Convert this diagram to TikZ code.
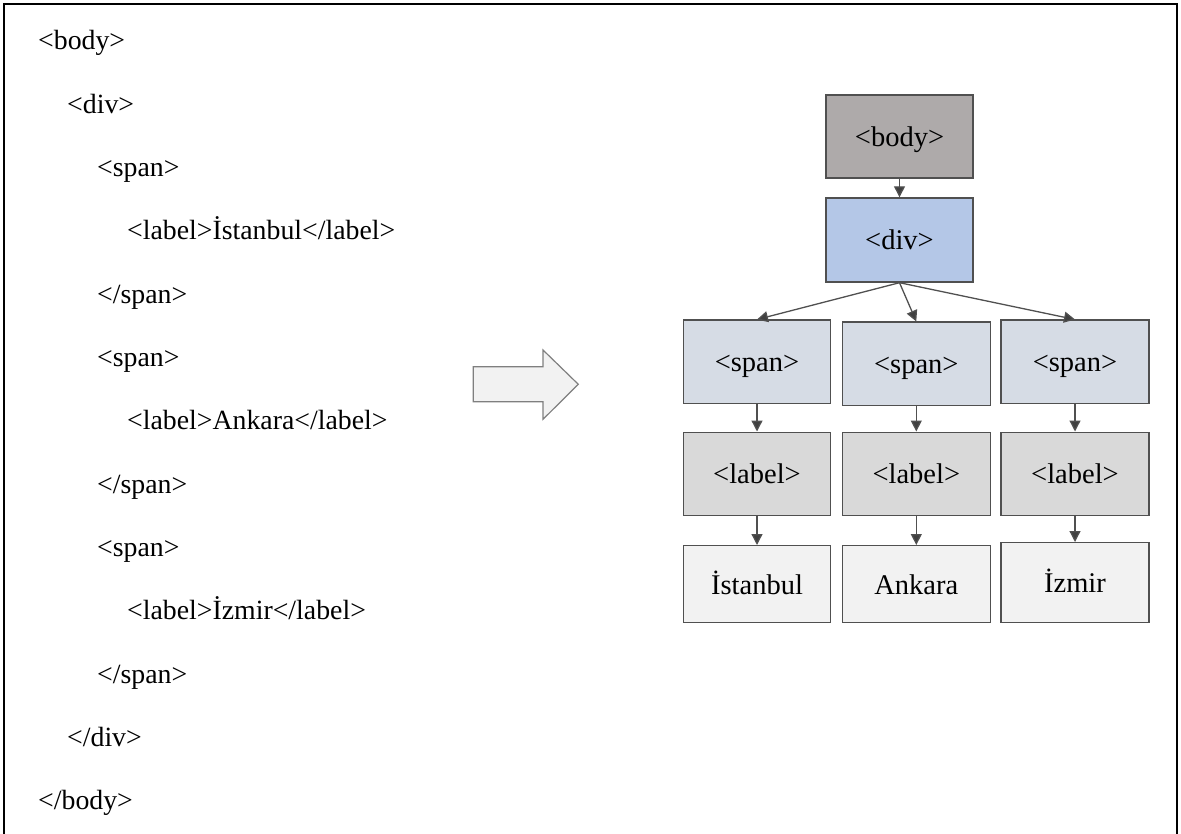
\documentclass[tikz,border=0pt]{standalone}
\usepackage{fontspec}
\setmainfont{Liberation Serif}
\usetikzlibrary{arrows.meta}
\definecolor{framecol}{HTML}{000000}
\definecolor{edgecol}{HTML}{505050}
\definecolor{tipcol}{HTML}{404040}
\definecolor{bodyfill}{HTML}{AEAAAA}
\definecolor{divfill}{HTML}{B4C7E7}
\definecolor{spanfill}{HTML}{D6DCE5}
\definecolor{labelfill}{HTML}{D9D9D9}
\definecolor{valfill}{HTML}{F2F2F2}
\definecolor{bigarrowedge}{HTML}{7F7F7F}
\tikzset{
  code/.style={anchor=base west, inner sep=0pt, font=\fontsize{27.8}{34}\selectfont},
  tagbox/.style={draw=edgecol, line width=1.4pt, minimum width=147pt, inner sep=0pt,
    text height=20pt, text depth=0pt, font=\fontsize{28.5}{34}\selectfont},
  link/.style={draw=edgecol, line width=1.3pt,
    -{Triangle[length=11pt,width=11pt,fill=tipcol]}},
}
\begin{document}
\begin{tikzpicture}[x=1pt,y=-1pt]
\useasboundingbox (0,0) rectangle (1181,834);
% page frame, open at the bottom
\draw[framecol, line width=1.5pt] (4,834) -- (4,4) -- (1177,4) -- (1177,834);

% HTML source listing
\node[code] (l0)  at (38, 50.0)  {<body>};
\node[code] (l1)  at (67, 113.3) {<div>};
\node[code] (l2)  at (97, 176.6) {<span>};
\node[code] (l3)  at (127,239.9) {<label>İstanbul</label>};
\node[code] (l4)  at (97, 303.2) {</span>};
\node[code] (l5)  at (97, 366.5) {<span>};
\node[code] (l6)  at (127,429.8) {<label>Ankara</label>};
\node[code] (l7)  at (97, 493.1) {</span>};
\node[code] (l8)  at (97, 556.4) {<span>};
\node[code] (l9)  at (127,619.7) {<label>İzmir</label>};
\node[code] (l10) at (97, 683.0) {</span>};
\node[code] (l11) at (67, 746.3) {</div>};
\node[code] (l12) at (38, 809.6) {</body>};

% block arrow
\draw[bigarrowedge, fill=valfill, line width=1.2pt, line join=miter]
  (473.3,366.7) -- (543,366.7) -- (543,350) -- (578.3,384.3)
  -- (543,419.3) -- (543,401.7) -- (473.3,401.7) -- cycle;

% DOM tree
\node[tagbox, fill=bodyfill, minimum height=83pt] (body) at (899.5,136.5) {<body>};
\node[tagbox, fill=divfill, minimum height=84pt] (div) at (899.5,240) {<div>};

\node[tagbox, fill=spanfill, minimum height=83pt] (s1) at (757,361.7) {<span>};
\node[tagbox, fill=spanfill, minimum height=83pt, minimum width=148pt] (s2) at (916.3,363.7) {<span>};
\node[tagbox, fill=spanfill, minimum height=83pt, minimum width=148pt] (s3) at (1075,361.7) {<span>};

\node[tagbox, fill=labelfill, minimum height=83pt] (b1) at (757,473.7) {<label>};
\node[tagbox, fill=labelfill, minimum height=83pt, minimum width=148pt] (b2) at (916.3,473.7) {<label>};
\node[tagbox, fill=labelfill, minimum height=83pt, minimum width=148pt] (b3) at (1075,473.7) {<label>};

\node[tagbox, fill=valfill, minimum height=77pt] (v1) at (757,584.2) {İstanbul};
\node[tagbox, fill=valfill, minimum height=77pt, minimum width=148pt] (v2) at (916.3,584.2) {Ankara};
\node[tagbox, fill=valfill, minimum height=80pt, minimum width=148pt] (v3) at (1075,582.7) {İzmir};

\draw[link] (body) -- (div);
\draw[link] (div.south) -- (s1.north);
\draw[link] (div.south) -- (s2.north);
\draw[link] (div.south) -- (s3.north);
\draw[link] (s1) -- (b1);
\draw[link] (s2) -- (b2);
\draw[link] (s3) -- (b3);
\draw[link] (b1) -- (v1);
\draw[link] (b2) -- (v2);
\draw[link] (b3) -- (v3);
\end{tikzpicture}
\end{document}
